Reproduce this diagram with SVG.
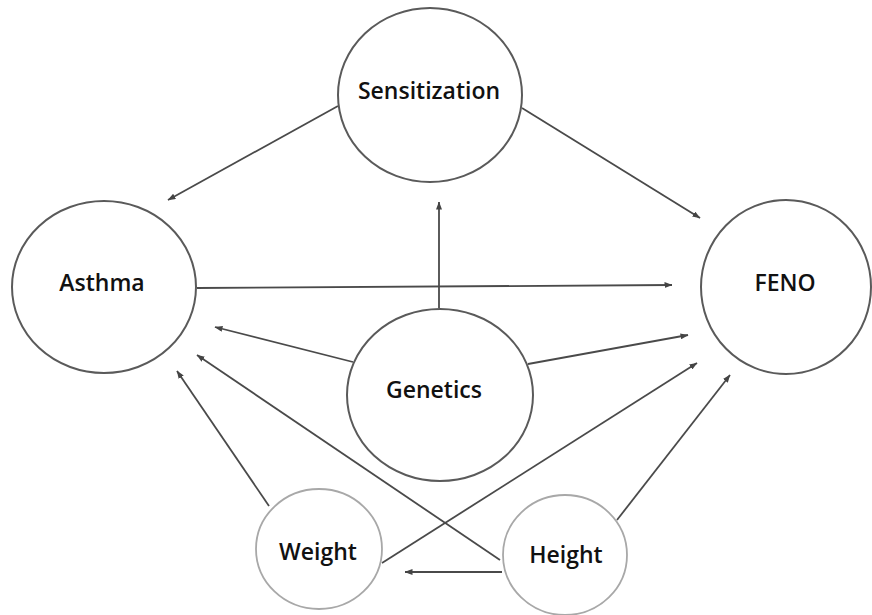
<svg xmlns="http://www.w3.org/2000/svg" width="872" height="615" viewBox="0 0 872 615">
<defs>
<marker id="arr" viewBox="0 0 8 6" refX="7.5" refY="3" markerWidth="8" markerHeight="6" markerUnits="userSpaceOnUse" orient="auto">
<path d="M0,0 L8,3 L0,6 Z" fill="#444"/>
</marker>
</defs>
<style>
.node{fill:#fff;stroke:#5a5a5a;stroke-width:2}
.light{fill:#fff;stroke:#a8a8a8;stroke-width:1.8}
.lbl{font-family:"Open Sans","Liberation Sans",sans-serif;font-weight:600;font-size:23px;fill:#111;text-anchor:middle}
.edge{stroke:#4a4a4a;stroke-width:1.8;fill:none;marker-end:url(#arr)}
</style>
<rect width="872" height="615" fill="#fff"/>
<g id="connectors">
<line class="edge" x1="338" y1="106" x2="168" y2="200"/>
<line class="edge" x1="522" y1="108" x2="700" y2="218"/>
<line class="edge" x1="197" y1="288" x2="672" y2="285"/>
<line class="edge" x1="439" y1="308" x2="439" y2="202"/>
<line class="edge" x1="353" y1="362" x2="215" y2="327"/>
<line class="edge" x1="528" y1="364" x2="688" y2="335"/>
<line class="edge" x1="269" y1="506" x2="177" y2="371"/>
<line class="edge" x1="382" y1="563" x2="697" y2="363"/>
<line class="edge" x1="500" y1="560" x2="197" y2="355"/>
<line class="edge" x1="617" y1="520" x2="730" y2="375"/>
<line class="edge" x1="502" y1="572" x2="405" y2="572"/>
</g>
<g id="sensitization">
<ellipse class="node" cx="430" cy="95" rx="92" ry="87"/>
<text class="lbl" x="429" y="99">Sensitization</text>
</g>
<g id="asthma">
<ellipse class="node" cx="104" cy="287" rx="92" ry="86"/>
<text class="lbl" x="102" y="291">Asthma</text>
</g>
<g id="feno">
<ellipse class="node" cx="786" cy="287" rx="85" ry="87"/>
<text class="lbl" x="785" y="291">FENO</text>
</g>
<g id="genetics">
<ellipse class="node" cx="440" cy="395" rx="93" ry="86"/>
<text class="lbl" x="434" y="398">Genetics</text>
</g>
<g id="weight">
<ellipse class="light" cx="319" cy="549" rx="63" ry="60"/>
<text class="lbl" x="318" y="560">Weight</text>
</g>
<g id="height">
<ellipse class="light" cx="565" cy="555" rx="62" ry="60"/>
<text class="lbl" x="566" y="563">Height</text>
</g>
</svg>
